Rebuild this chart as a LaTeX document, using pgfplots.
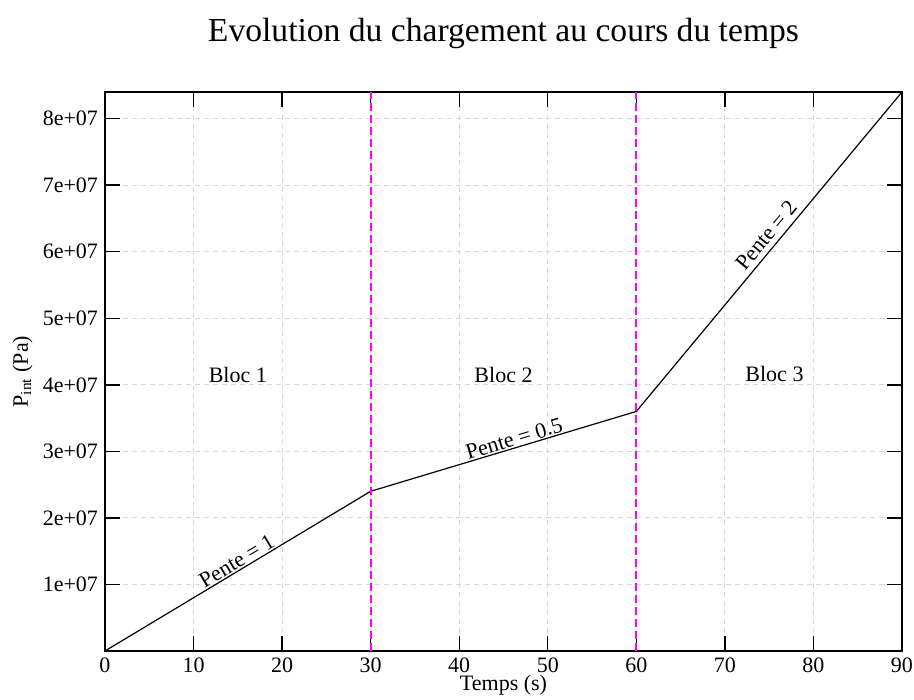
\documentclass[border=0pt]{standalone}
\usepackage{pgfplots}
\pgfplotsset{compat=1.18}
\usepackage{fontspec}
\setmainfont{Liberation Serif}
\definecolor{gridgray}{RGB}{215,215,215}
\definecolor{pmag}{RGB}{255,0,255}
\begin{document}
\begin{tikzpicture}
\path[use as bounding box] (-52.5bp,-24.5bp) rectangle (404.5bp,325.5bp);
\begin{axis}[
  at={(0,0)}, anchor=south west,
  width=398.5bp, height=279.5bp, scale only axis,
  xmin=0, xmax=90, ymin=0, ymax=8.4e7,
  xtick={0,10,...,90},
  ytick={1e7,2e7,3e7,4e7,5e7,6e7,7e7,8e7},
  yticklabels={1e+07,2e+07,3e+07,4e+07,5e+07,6e+07,7e+07,8e+07},
  scaled y ticks=false,
  /pgf/number format/assume math mode=true,
  tick label style={font=\fontsize{11bp}{13bp}\selectfont, black},
  major tick length=7.5bp,
  tick style={black, line width=0.7bp},
  axis line style={line width=1bp},
  grid=major,
  major grid style={gridgray, dash pattern=on 2.5bp off 2bp, line width=0.5bp},
  title={Evolution du chargement au cours du temps},
  title style={font=\fontsize{16.8bp}{19bp}\selectfont, at={(axis description cs:0.5,1)}, anchor=base, yshift=19.5bp},
  xlabel={Temps (s)},
  xlabel style={font=\fontsize{11bp}{13bp}\selectfont, at={(axis description cs:0.5,0)}, anchor=base, yshift=-19.5bp},
  ylabel={P\textsubscript{int} (Pa)},
  ylabel style={font=\fontsize{11bp}{13bp}\selectfont, at={(axis description cs:-0.1035,0.5)}, anchor=center},
  clip=false,
]
\addplot[black, line width=0.6bp, mark=none] coordinates {(0,0) (30,2.4e7) (60,3.6e7) (90,8.4e7)};
\addplot[pmag, line width=1bp, dash pattern=on 4bp off 2bp, mark=none] coordinates {(30,0) (30,8.4e7)};
\addplot[pmag, line width=1bp, dash pattern=on 4bp off 2bp, mark=none] coordinates {(60,0) (60,8.4e7)};
\node[font=\fontsize{11bp}{13bp}\selectfont, anchor=base] at (axis cs:15.0,4.03e7) {Bloc 1};
\node[font=\fontsize{11bp}{13bp}\selectfont, anchor=base] at (axis cs:45.0,4.03e7) {Bloc 2};
\node[font=\fontsize{11bp}{13bp}\selectfont, anchor=base] at (axis cs:75.6,4.05e7) {Bloc 3};
\node[font=\fontsize{11bp}{13bp}\selectfont, anchor=base, inner sep=0pt, rotate=31.0, yshift=1bp] at (axis cs:15.4,1.232e7) {Pente = 1};
\node[font=\fontsize{11bp}{13bp}\selectfont, anchor=base, inner sep=0pt, rotate=16.7, yshift=1bp] at (axis cs:46.5,3.06e7) {Pente = 0.5};
\node[font=\fontsize{11bp}{13bp}\selectfont, anchor=base, inner sep=0pt, rotate=50.3, yshift=2.5bp] at (axis cs:75.8,6.13e7) {Pente = 2};
\end{axis}
\end{tikzpicture}
\end{document}
